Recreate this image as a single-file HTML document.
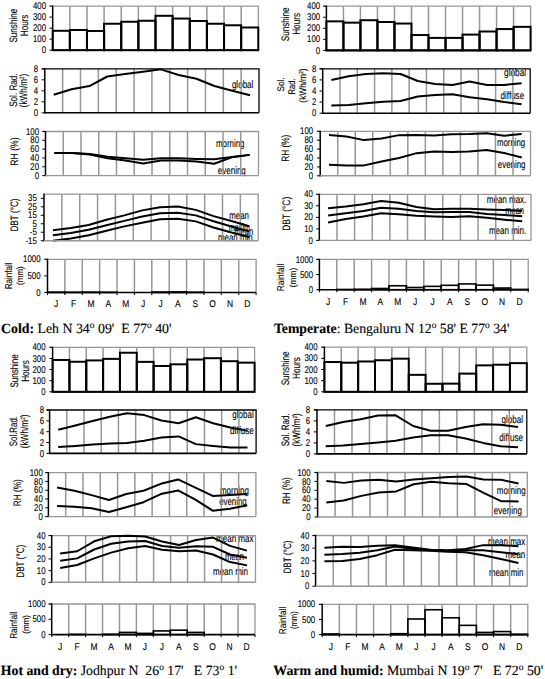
<!DOCTYPE html><html><head><meta charset="utf-8"><style>html,body{margin:0;padding:0;background:#fff;}svg{display:block;}</style></head><body>
<svg width="545" height="679" viewBox="0 0 545 679" font-family="Liberation Sans, sans-serif" fill="#000">
<style>text{stroke:#000;stroke-width:0.12px;text-rendering:geometricPrecision;}</style>
<rect width="545" height="679" fill="#fff"/>
<line x1="69.83" y1="6.1" x2="69.83" y2="50.2" stroke="#979797" stroke-width="1.5"/>
<line x1="86.97" y1="6.1" x2="86.97" y2="50.2" stroke="#979797" stroke-width="1.5"/>
<line x1="104.1" y1="6.1" x2="104.1" y2="50.2" stroke="#979797" stroke-width="1.5"/>
<line x1="121.23" y1="6.1" x2="121.23" y2="50.2" stroke="#979797" stroke-width="1.5"/>
<line x1="138.37" y1="6.1" x2="138.37" y2="50.2" stroke="#979797" stroke-width="1.5"/>
<line x1="155.5" y1="6.1" x2="155.5" y2="50.2" stroke="#979797" stroke-width="1.5"/>
<line x1="172.63" y1="6.1" x2="172.63" y2="50.2" stroke="#979797" stroke-width="1.5"/>
<line x1="189.77" y1="6.1" x2="189.77" y2="50.2" stroke="#979797" stroke-width="1.5"/>
<line x1="206.9" y1="6.1" x2="206.9" y2="50.2" stroke="#979797" stroke-width="1.5"/>
<line x1="224.03" y1="6.1" x2="224.03" y2="50.2" stroke="#979797" stroke-width="1.5"/>
<line x1="241.17" y1="6.1" x2="241.17" y2="50.2" stroke="#979797" stroke-width="1.5"/>
<polyline points="49.7,6.1 258.3,6.1 258.3,50.2" fill="none" stroke="#979797" stroke-width="1.3"/>
<rect x="52.7" y="30.8" width="17.13" height="19.4" fill="none" stroke="#000" stroke-width="2"/>
<rect x="69.83" y="30.02" width="17.13" height="20.18" fill="none" stroke="#000" stroke-width="2"/>
<rect x="86.97" y="31.02" width="17.13" height="19.18" fill="none" stroke="#000" stroke-width="2"/>
<rect x="104.1" y="23.74" width="17.13" height="26.46" fill="none" stroke="#000" stroke-width="2"/>
<rect x="121.23" y="21.76" width="17.13" height="28.44" fill="none" stroke="#000" stroke-width="2"/>
<rect x="138.37" y="20.76" width="17.13" height="29.44" fill="none" stroke="#000" stroke-width="2"/>
<rect x="155.5" y="15.8" width="17.13" height="34.4" fill="none" stroke="#000" stroke-width="2"/>
<rect x="172.63" y="18.56" width="17.13" height="31.64" fill="none" stroke="#000" stroke-width="2"/>
<rect x="189.77" y="20.98" width="17.13" height="29.22" fill="none" stroke="#000" stroke-width="2"/>
<rect x="206.9" y="23.74" width="17.13" height="26.46" fill="none" stroke="#000" stroke-width="2"/>
<rect x="224.03" y="25.28" width="17.13" height="24.92" fill="none" stroke="#000" stroke-width="2"/>
<rect x="241.17" y="27.49" width="17.13" height="22.71" fill="none" stroke="#000" stroke-width="2"/>
<line x1="52.7" y1="5.5" x2="52.7" y2="50.8" stroke="#000" stroke-width="1.5"/>
<line x1="52.1" y1="50.2" x2="258.3" y2="50.2" stroke="#000" stroke-width="1.6"/>
<line x1="49.5" y1="50.2" x2="52.7" y2="50.2" stroke="#000" stroke-width="1"/>
<text transform="translate(46 53.34) scale(0.8 1)" font-size="9.8" text-anchor="end">0</text>
<line x1="49.5" y1="39.18" x2="52.7" y2="39.18" stroke="#000" stroke-width="1"/>
<text transform="translate(46 42.31) scale(0.8 1)" font-size="9.8" text-anchor="end">100</text>
<line x1="49.5" y1="28.15" x2="52.7" y2="28.15" stroke="#000" stroke-width="1"/>
<text transform="translate(46 31.29) scale(0.8 1)" font-size="9.8" text-anchor="end">200</text>
<line x1="49.5" y1="17.12" x2="52.7" y2="17.12" stroke="#000" stroke-width="1"/>
<text transform="translate(46 20.26) scale(0.8 1)" font-size="9.8" text-anchor="end">300</text>
<line x1="49.5" y1="6.1" x2="52.7" y2="6.1" stroke="#000" stroke-width="1"/>
<text transform="translate(46 9.24) scale(0.8 1)" font-size="9.8" text-anchor="end">400</text>
<text transform="translate(16.7 25.7) rotate(-90)" x="0" y="0" font-size="10.8" text-anchor="middle" textLength="33.8" lengthAdjust="spacingAndGlyphs">Sunshine</text>
<text transform="translate(27.7 25.4) rotate(-90)" x="0" y="0" font-size="10.8" text-anchor="middle" textLength="21.6" lengthAdjust="spacingAndGlyphs">Hours</text>
<text x="231.9" y="88.1" font-size="10.8" text-anchor="start" textLength="21.5" lengthAdjust="spacingAndGlyphs">global</text>
<line x1="62.65" y1="68.8" x2="62.65" y2="112.8" stroke="#979797" stroke-width="1.5"/>
<line x1="80.5" y1="68.8" x2="80.5" y2="112.8" stroke="#979797" stroke-width="1.5"/>
<line x1="98.35" y1="68.8" x2="98.35" y2="112.8" stroke="#979797" stroke-width="1.5"/>
<line x1="116.2" y1="68.8" x2="116.2" y2="112.8" stroke="#979797" stroke-width="1.5"/>
<line x1="134.05" y1="68.8" x2="134.05" y2="112.8" stroke="#979797" stroke-width="1.5"/>
<line x1="151.9" y1="68.8" x2="151.9" y2="112.8" stroke="#979797" stroke-width="1.5"/>
<line x1="169.75" y1="68.8" x2="169.75" y2="112.8" stroke="#979797" stroke-width="1.5"/>
<line x1="187.6" y1="68.8" x2="187.6" y2="112.8" stroke="#979797" stroke-width="1.5"/>
<line x1="205.45" y1="68.8" x2="205.45" y2="112.8" stroke="#979797" stroke-width="1.5"/>
<line x1="223.3" y1="68.8" x2="223.3" y2="112.8" stroke="#979797" stroke-width="1.5"/>
<line x1="241.15" y1="68.8" x2="241.15" y2="112.8" stroke="#979797" stroke-width="1.5"/>
<polyline points="41.8,68.8 259,68.8 259,112.8" fill="none" stroke="#000" stroke-width="1.3"/>
<polyline points="53.72,94.81 71.57,89.31 89.42,86.02 107.27,76.5 125.12,73.91 142.97,71.72 160.82,69.35 178.67,75.01 196.52,78.7 214.38,86.02 232.22,90.8 250.07,95.2" fill="none" stroke="#000" stroke-width="2.0" stroke-linejoin="round"/>
<line x1="44.8" y1="68.2" x2="44.8" y2="113.4" stroke="#000" stroke-width="1.5"/>
<line x1="44.2" y1="112.8" x2="259" y2="112.8" stroke="#000" stroke-width="1.6"/>
<line x1="41.6" y1="112.8" x2="44.8" y2="112.8" stroke="#000" stroke-width="1"/>
<text transform="translate(38.1 115.94) scale(0.8 1)" font-size="9.8" text-anchor="end">0</text>
<line x1="41.6" y1="101.8" x2="44.8" y2="101.8" stroke="#000" stroke-width="1"/>
<text transform="translate(38.1 104.94) scale(0.8 1)" font-size="9.8" text-anchor="end">2</text>
<line x1="41.6" y1="90.8" x2="44.8" y2="90.8" stroke="#000" stroke-width="1"/>
<text transform="translate(38.1 93.94) scale(0.8 1)" font-size="9.8" text-anchor="end">4</text>
<line x1="41.6" y1="79.8" x2="44.8" y2="79.8" stroke="#000" stroke-width="1"/>
<text transform="translate(38.1 82.94) scale(0.8 1)" font-size="9.8" text-anchor="end">6</text>
<line x1="41.6" y1="68.8" x2="44.8" y2="68.8" stroke="#000" stroke-width="1"/>
<text transform="translate(38.1 71.94) scale(0.8 1)" font-size="9.8" text-anchor="end">8</text>
<text transform="translate(16.5 90.1) rotate(-90)" x="0" y="0" font-size="10.8" text-anchor="middle" textLength="33.5" lengthAdjust="spacingAndGlyphs">Sol. Rad.</text>
<text transform="translate(27.2 90.5) rotate(-90)" x="0" y="0" font-size="10.8" text-anchor="middle" textLength="33.6" lengthAdjust="spacingAndGlyphs">(kWh/m<tspan font-size="6" dy="-3">2</tspan><tspan dy="3">)</tspan></text>
<text x="216" y="146.9" font-size="10.8" text-anchor="start" textLength="28.5" lengthAdjust="spacingAndGlyphs">morning</text>
<text x="217.8" y="173.9" font-size="10.8" text-anchor="start" textLength="28" lengthAdjust="spacingAndGlyphs">evening</text>
<line x1="63.25" y1="131.5" x2="63.25" y2="175.6" stroke="#979797" stroke-width="1.5"/>
<line x1="81" y1="131.5" x2="81" y2="175.6" stroke="#979797" stroke-width="1.5"/>
<line x1="98.75" y1="131.5" x2="98.75" y2="175.6" stroke="#979797" stroke-width="1.5"/>
<line x1="116.5" y1="131.5" x2="116.5" y2="175.6" stroke="#979797" stroke-width="1.5"/>
<line x1="134.25" y1="131.5" x2="134.25" y2="175.6" stroke="#979797" stroke-width="1.5"/>
<line x1="152" y1="131.5" x2="152" y2="175.6" stroke="#979797" stroke-width="1.5"/>
<line x1="169.75" y1="131.5" x2="169.75" y2="175.6" stroke="#979797" stroke-width="1.5"/>
<line x1="187.5" y1="131.5" x2="187.5" y2="175.6" stroke="#979797" stroke-width="1.5"/>
<line x1="205.25" y1="131.5" x2="205.25" y2="175.6" stroke="#979797" stroke-width="1.5"/>
<line x1="223" y1="131.5" x2="223" y2="175.6" stroke="#979797" stroke-width="1.5"/>
<line x1="240.75" y1="131.5" x2="240.75" y2="175.6" stroke="#979797" stroke-width="1.5"/>
<polyline points="42.5,131.5 258.5,131.5 258.5,175.6" fill="none" stroke="#979797" stroke-width="1.3"/>
<polyline points="54.38,153.11 72.12,153.11 89.88,153.99 107.62,156.86 125.38,158.18 143.12,159.77 160.88,158.18 178.62,158.18 196.38,158.89 214.12,159.28 231.88,157.08 249.62,154.87" fill="none" stroke="#000" stroke-width="2.0" stroke-linejoin="round"/>
<polyline points="54.38,153.11 72.12,153.11 89.88,154.43 107.62,158.18 125.38,160.56 143.12,163.47 160.88,160.61 178.62,160.39 196.38,161.58 214.12,163.69 231.88,157.3 249.62,154.87" fill="none" stroke="#000" stroke-width="2.0" stroke-linejoin="round"/>
<line x1="45.5" y1="130.9" x2="45.5" y2="176.2" stroke="#000" stroke-width="1.5"/>
<line x1="44.9" y1="175.6" x2="258.5" y2="175.6" stroke="#979797" stroke-width="1.4"/>
<line x1="42.3" y1="175.6" x2="45.5" y2="175.6" stroke="#000" stroke-width="1"/>
<text transform="translate(39 178.74) scale(0.8 1)" font-size="9.8" text-anchor="end">0</text>
<line x1="42.3" y1="166.78" x2="45.5" y2="166.78" stroke="#000" stroke-width="1"/>
<text transform="translate(39 169.92) scale(0.8 1)" font-size="9.8" text-anchor="end">20</text>
<line x1="42.3" y1="157.96" x2="45.5" y2="157.96" stroke="#000" stroke-width="1"/>
<text transform="translate(39 161.1) scale(0.8 1)" font-size="9.8" text-anchor="end">40</text>
<line x1="42.3" y1="149.14" x2="45.5" y2="149.14" stroke="#000" stroke-width="1"/>
<text transform="translate(39 152.28) scale(0.8 1)" font-size="9.8" text-anchor="end">60</text>
<line x1="42.3" y1="140.32" x2="45.5" y2="140.32" stroke="#000" stroke-width="1"/>
<text transform="translate(39 143.46) scale(0.8 1)" font-size="9.8" text-anchor="end">80</text>
<line x1="42.3" y1="131.5" x2="45.5" y2="131.5" stroke="#000" stroke-width="1"/>
<text transform="translate(39 134.64) scale(0.8 1)" font-size="9.8" text-anchor="end">100</text>
<text transform="translate(18.3 151.5) rotate(-90)" x="0" y="0" font-size="10.8" text-anchor="middle" textLength="28.3" lengthAdjust="spacingAndGlyphs">RH (%)</text>
<text x="229.3" y="219.3" font-size="10.8" text-anchor="start" textLength="19.7" lengthAdjust="spacingAndGlyphs">mean</text>
<text x="228.8" y="230.7" font-size="10.8" text-anchor="start" textLength="21.2" lengthAdjust="spacingAndGlyphs">maxim</text>
<text x="234.3" y="235.3" font-size="10.8" text-anchor="start" textLength="18.8" lengthAdjust="spacingAndGlyphs">mean</text>
<text x="218" y="241.3" font-size="10.8" text-anchor="start" textLength="34.7" lengthAdjust="spacingAndGlyphs">mean min</text>
<line x1="61.85" y1="194.1" x2="61.85" y2="240.7" stroke="#979797" stroke-width="1.5"/>
<line x1="79.7" y1="194.1" x2="79.7" y2="240.7" stroke="#979797" stroke-width="1.5"/>
<line x1="97.55" y1="194.1" x2="97.55" y2="240.7" stroke="#979797" stroke-width="1.5"/>
<line x1="115.4" y1="194.1" x2="115.4" y2="240.7" stroke="#979797" stroke-width="1.5"/>
<line x1="133.25" y1="194.1" x2="133.25" y2="240.7" stroke="#979797" stroke-width="1.5"/>
<line x1="151.1" y1="194.1" x2="151.1" y2="240.7" stroke="#979797" stroke-width="1.5"/>
<line x1="168.95" y1="194.1" x2="168.95" y2="240.7" stroke="#979797" stroke-width="1.5"/>
<line x1="186.8" y1="194.1" x2="186.8" y2="240.7" stroke="#979797" stroke-width="1.5"/>
<line x1="204.65" y1="194.1" x2="204.65" y2="240.7" stroke="#979797" stroke-width="1.5"/>
<line x1="222.5" y1="194.1" x2="222.5" y2="240.7" stroke="#979797" stroke-width="1.5"/>
<line x1="240.35" y1="194.1" x2="240.35" y2="240.7" stroke="#979797" stroke-width="1.5"/>
<polyline points="44,194.1 258.2,194.1 258.2,240.7" fill="none" stroke="#979797" stroke-width="1.3"/>
<polyline points="52.92,230.19 70.78,227.99 88.62,224.94 106.47,219.77 124.32,215.37 142.17,210.37 160.02,207.32 177.87,206.55 195.72,209.86 213.57,216.13 231.42,221.04 249.27,226.3" fill="none" stroke="#000" stroke-width="2.0" stroke-linejoin="round"/>
<polyline points="52.92,235.19 70.78,232.99 88.62,229.69 106.47,225.28 124.32,220.87 142.17,216.47 160.02,213.16 177.87,212.74 195.72,215.37 213.57,221.21 231.42,226.55 249.27,231.55" fill="none" stroke="#000" stroke-width="2.0" stroke-linejoin="round"/>
<polyline points="52.92,240.7 70.78,238.5 88.62,235.19 106.47,230.79 124.32,226.38 142.17,222.65 160.02,219.18 177.87,218.67 195.72,221.38 213.57,227.48 231.42,232.48 249.27,237.06" fill="none" stroke="#000" stroke-width="2.0" stroke-linejoin="round"/>
<line x1="44" y1="193.5" x2="44" y2="241.3" stroke="#000" stroke-width="1.5"/>
<line x1="43.4" y1="240.7" x2="258.2" y2="240.7" stroke="#979797" stroke-width="1.4"/>
<line x1="40.8" y1="240.7" x2="44" y2="240.7" stroke="#000" stroke-width="1"/>
<text transform="translate(36.8 243.84) scale(0.8 1)" font-size="9.8" text-anchor="end">-15</text>
<line x1="40.8" y1="232.23" x2="44" y2="232.23" stroke="#000" stroke-width="1"/>
<text transform="translate(36.8 235.36) scale(0.8 1)" font-size="9.8" text-anchor="end">-5</text>
<line x1="40.8" y1="223.75" x2="44" y2="223.75" stroke="#000" stroke-width="1"/>
<text transform="translate(36.8 226.89) scale(0.8 1)" font-size="9.8" text-anchor="end">5</text>
<line x1="40.8" y1="215.28" x2="44" y2="215.28" stroke="#000" stroke-width="1"/>
<text transform="translate(36.8 218.42) scale(0.8 1)" font-size="9.8" text-anchor="end">15</text>
<line x1="40.8" y1="206.81" x2="44" y2="206.81" stroke="#000" stroke-width="1"/>
<text transform="translate(36.8 209.95) scale(0.8 1)" font-size="9.8" text-anchor="end">25</text>
<line x1="40.8" y1="198.34" x2="44" y2="198.34" stroke="#000" stroke-width="1"/>
<text transform="translate(36.8 201.47) scale(0.8 1)" font-size="9.8" text-anchor="end">35</text>
<text transform="translate(18.3 215) rotate(-90)" x="0" y="0" font-size="10.8" text-anchor="middle" textLength="33.1" lengthAdjust="spacingAndGlyphs">DBT (°C)</text>
<line x1="64.88" y1="259.3" x2="64.88" y2="292.5" stroke="#979797" stroke-width="1.5"/>
<line x1="82.27" y1="259.3" x2="82.27" y2="292.5" stroke="#979797" stroke-width="1.5"/>
<line x1="99.65" y1="259.3" x2="99.65" y2="292.5" stroke="#979797" stroke-width="1.5"/>
<line x1="117.03" y1="259.3" x2="117.03" y2="292.5" stroke="#979797" stroke-width="1.5"/>
<line x1="134.42" y1="259.3" x2="134.42" y2="292.5" stroke="#979797" stroke-width="1.5"/>
<line x1="151.8" y1="259.3" x2="151.8" y2="292.5" stroke="#979797" stroke-width="1.5"/>
<line x1="169.18" y1="259.3" x2="169.18" y2="292.5" stroke="#979797" stroke-width="1.5"/>
<line x1="186.57" y1="259.3" x2="186.57" y2="292.5" stroke="#979797" stroke-width="1.5"/>
<line x1="203.95" y1="259.3" x2="203.95" y2="292.5" stroke="#979797" stroke-width="1.5"/>
<line x1="221.33" y1="259.3" x2="221.33" y2="292.5" stroke="#979797" stroke-width="1.5"/>
<line x1="238.72" y1="259.3" x2="238.72" y2="292.5" stroke="#979797" stroke-width="1.5"/>
<polyline points="44.5,259.3 256.1,259.3 256.1,292.5" fill="none" stroke="#979797" stroke-width="1.3"/>
<rect x="47.5" y="292.17" width="17.38" height="0.33" fill="none" stroke="#000" stroke-width="1.6"/>
<rect x="64.88" y="292.23" width="17.38" height="0.27" fill="none" stroke="#000" stroke-width="1.6"/>
<rect x="82.27" y="292.13" width="17.38" height="0.37" fill="none" stroke="#000" stroke-width="1.6"/>
<rect x="99.65" y="292.27" width="17.38" height="0.23" fill="none" stroke="#000" stroke-width="1.6"/>
<rect x="151.8" y="292" width="17.38" height="0.5" fill="none" stroke="#000" stroke-width="1.6"/>
<rect x="169.18" y="291.9" width="17.38" height="0.6" fill="none" stroke="#000" stroke-width="1.6"/>
<rect x="186.57" y="292.2" width="17.38" height="0.3" fill="none" stroke="#000" stroke-width="1.6"/>
<line x1="47.5" y1="258.7" x2="47.5" y2="293.1" stroke="#000" stroke-width="1.5"/>
<line x1="46.9" y1="292.5" x2="256.1" y2="292.5" stroke="#000" stroke-width="1.6"/>
<line x1="44.3" y1="292.5" x2="47.5" y2="292.5" stroke="#000" stroke-width="1"/>
<text transform="translate(40.5 295.64) scale(0.8 1)" font-size="9.8" text-anchor="end">0</text>
<line x1="44.3" y1="275.9" x2="47.5" y2="275.9" stroke="#000" stroke-width="1"/>
<text transform="translate(40.5 279.04) scale(0.8 1)" font-size="9.8" text-anchor="end">500</text>
<line x1="44.3" y1="259.3" x2="47.5" y2="259.3" stroke="#000" stroke-width="1"/>
<text transform="translate(40.5 262.44) scale(0.8 1)" font-size="9.8" text-anchor="end">1000</text>
<line x1="47.5" y1="292.5" x2="47.5" y2="295.1" stroke="#000" stroke-width="1"/>
<line x1="64.88" y1="292.5" x2="64.88" y2="295.1" stroke="#000" stroke-width="1"/>
<line x1="82.27" y1="292.5" x2="82.27" y2="295.1" stroke="#000" stroke-width="1"/>
<line x1="99.65" y1="292.5" x2="99.65" y2="295.1" stroke="#000" stroke-width="1"/>
<line x1="117.03" y1="292.5" x2="117.03" y2="295.1" stroke="#000" stroke-width="1"/>
<line x1="134.42" y1="292.5" x2="134.42" y2="295.1" stroke="#000" stroke-width="1"/>
<line x1="151.8" y1="292.5" x2="151.8" y2="295.1" stroke="#000" stroke-width="1"/>
<line x1="169.18" y1="292.5" x2="169.18" y2="295.1" stroke="#000" stroke-width="1"/>
<line x1="186.57" y1="292.5" x2="186.57" y2="295.1" stroke="#000" stroke-width="1"/>
<line x1="203.95" y1="292.5" x2="203.95" y2="295.1" stroke="#000" stroke-width="1"/>
<line x1="221.33" y1="292.5" x2="221.33" y2="295.1" stroke="#000" stroke-width="1"/>
<line x1="238.72" y1="292.5" x2="238.72" y2="295.1" stroke="#000" stroke-width="1"/>
<line x1="256.1" y1="292.5" x2="256.1" y2="295.1" stroke="#000" stroke-width="1"/>
<text transform="translate(11.6 275.9) rotate(-90)" x="0" y="0" font-size="10.0" text-anchor="middle" textLength="26.9" lengthAdjust="spacingAndGlyphs">Rainfall</text>
<text transform="translate(22.8 275.6) rotate(-90)" x="0" y="0" font-size="9.2" text-anchor="middle" textLength="18.6" lengthAdjust="spacingAndGlyphs">(mm)</text>
<line x1="343.42" y1="6.2" x2="343.42" y2="50.4" stroke="#979797" stroke-width="1.5"/>
<line x1="360.43" y1="6.2" x2="360.43" y2="50.4" stroke="#979797" stroke-width="1.5"/>
<line x1="377.45" y1="6.2" x2="377.45" y2="50.4" stroke="#979797" stroke-width="1.5"/>
<line x1="394.47" y1="6.2" x2="394.47" y2="50.4" stroke="#979797" stroke-width="1.5"/>
<line x1="411.48" y1="6.2" x2="411.48" y2="50.4" stroke="#979797" stroke-width="1.5"/>
<line x1="428.5" y1="6.2" x2="428.5" y2="50.4" stroke="#979797" stroke-width="1.5"/>
<line x1="445.52" y1="6.2" x2="445.52" y2="50.4" stroke="#979797" stroke-width="1.5"/>
<line x1="462.53" y1="6.2" x2="462.53" y2="50.4" stroke="#979797" stroke-width="1.5"/>
<line x1="479.55" y1="6.2" x2="479.55" y2="50.4" stroke="#979797" stroke-width="1.5"/>
<line x1="496.57" y1="6.2" x2="496.57" y2="50.4" stroke="#979797" stroke-width="1.5"/>
<line x1="513.58" y1="6.2" x2="513.58" y2="50.4" stroke="#979797" stroke-width="1.5"/>
<polyline points="323.4,6.2 530.6,6.2 530.6,50.4" fill="none" stroke="#979797" stroke-width="1.3"/>
<rect x="326.4" y="21.34" width="17.02" height="29.06" fill="none" stroke="#000" stroke-width="2"/>
<rect x="343.42" y="22.66" width="17.02" height="27.74" fill="none" stroke="#000" stroke-width="2"/>
<rect x="360.43" y="20.23" width="17.02" height="30.17" fill="none" stroke="#000" stroke-width="2"/>
<rect x="377.45" y="22" width="17.02" height="28.4" fill="none" stroke="#000" stroke-width="2"/>
<rect x="394.47" y="23.55" width="17.02" height="26.85" fill="none" stroke="#000" stroke-width="2"/>
<rect x="411.48" y="35.04" width="17.02" height="15.36" fill="none" stroke="#000" stroke-width="2"/>
<rect x="428.5" y="37.91" width="17.02" height="12.49" fill="none" stroke="#000" stroke-width="2"/>
<rect x="445.52" y="37.91" width="17.02" height="12.49" fill="none" stroke="#000" stroke-width="2"/>
<rect x="462.53" y="34.6" width="17.02" height="15.8" fill="none" stroke="#000" stroke-width="2"/>
<rect x="479.55" y="31.5" width="17.02" height="18.9" fill="none" stroke="#000" stroke-width="2"/>
<rect x="496.57" y="29.07" width="17.02" height="21.33" fill="none" stroke="#000" stroke-width="2"/>
<rect x="513.58" y="26.86" width="17.02" height="23.54" fill="none" stroke="#000" stroke-width="2"/>
<line x1="326.4" y1="5.6" x2="326.4" y2="51" stroke="#000" stroke-width="1.5"/>
<line x1="325.8" y1="50.4" x2="530.6" y2="50.4" stroke="#000" stroke-width="1.6"/>
<line x1="323.2" y1="50.4" x2="326.4" y2="50.4" stroke="#000" stroke-width="1"/>
<text transform="translate(320.2 53.54) scale(0.8 1)" font-size="9.8" text-anchor="end">0</text>
<line x1="323.2" y1="39.35" x2="326.4" y2="39.35" stroke="#000" stroke-width="1"/>
<text transform="translate(320.2 42.49) scale(0.8 1)" font-size="9.8" text-anchor="end">100</text>
<line x1="323.2" y1="28.3" x2="326.4" y2="28.3" stroke="#000" stroke-width="1"/>
<text transform="translate(320.2 31.44) scale(0.8 1)" font-size="9.8" text-anchor="end">200</text>
<line x1="323.2" y1="17.25" x2="326.4" y2="17.25" stroke="#000" stroke-width="1"/>
<text transform="translate(320.2 20.39) scale(0.8 1)" font-size="9.8" text-anchor="end">300</text>
<line x1="323.2" y1="6.2" x2="326.4" y2="6.2" stroke="#000" stroke-width="1"/>
<text transform="translate(320.2 9.34) scale(0.8 1)" font-size="9.8" text-anchor="end">400</text>
<text transform="translate(289.4 24.3) rotate(-90)" x="0" y="0" font-size="10.8" text-anchor="middle" textLength="33.8" lengthAdjust="spacingAndGlyphs">Sunshine</text>
<text transform="translate(300.4 23.9) rotate(-90)" x="0" y="0" font-size="10.8" text-anchor="middle" textLength="21.9" lengthAdjust="spacingAndGlyphs">Hours</text>
<text x="504.1" y="75.7" font-size="10.8" text-anchor="start" textLength="22" lengthAdjust="spacingAndGlyphs">global</text>
<text x="500.6" y="99" font-size="10.8" text-anchor="start" textLength="23.5" lengthAdjust="spacingAndGlyphs">diffuse</text>
<line x1="339.99" y1="68.8" x2="339.99" y2="113.2" stroke="#979797" stroke-width="1.5"/>
<line x1="357.28" y1="68.8" x2="357.28" y2="113.2" stroke="#979797" stroke-width="1.5"/>
<line x1="374.57" y1="68.8" x2="374.57" y2="113.2" stroke="#979797" stroke-width="1.5"/>
<line x1="391.87" y1="68.8" x2="391.87" y2="113.2" stroke="#979797" stroke-width="1.5"/>
<line x1="409.16" y1="68.8" x2="409.16" y2="113.2" stroke="#979797" stroke-width="1.5"/>
<line x1="426.45" y1="68.8" x2="426.45" y2="113.2" stroke="#979797" stroke-width="1.5"/>
<line x1="443.74" y1="68.8" x2="443.74" y2="113.2" stroke="#979797" stroke-width="1.5"/>
<line x1="461.03" y1="68.8" x2="461.03" y2="113.2" stroke="#979797" stroke-width="1.5"/>
<line x1="478.33" y1="68.8" x2="478.33" y2="113.2" stroke="#979797" stroke-width="1.5"/>
<line x1="495.62" y1="68.8" x2="495.62" y2="113.2" stroke="#979797" stroke-width="1.5"/>
<line x1="512.91" y1="68.8" x2="512.91" y2="113.2" stroke="#979797" stroke-width="1.5"/>
<polyline points="319.7,68.8 530.2,68.8 530.2,113.2" fill="none" stroke="#000" stroke-width="1.3"/>
<polyline points="331.35,79.9 348.64,76.18 365.93,73.96 383.22,73.24 400.51,73.96 417.8,81.01 435.1,83.95 452.39,85.06 469.68,81.56 486.97,85.06 504.26,84.89 521.55,83.23" fill="none" stroke="#000" stroke-width="2.0" stroke-linejoin="round"/>
<polyline points="331.35,105.43 348.64,105.04 365.93,103.21 383.22,101.71 400.51,100.99 417.8,96.55 435.1,94.89 452.39,94.33 469.68,97.27 486.97,99.33 504.26,102.1 521.55,104.32" fill="none" stroke="#000" stroke-width="2.0" stroke-linejoin="round"/>
<line x1="322.7" y1="68.2" x2="322.7" y2="113.8" stroke="#000" stroke-width="1.5"/>
<line x1="322.1" y1="113.2" x2="530.2" y2="113.2" stroke="#000" stroke-width="1.6"/>
<line x1="319.5" y1="113.2" x2="322.7" y2="113.2" stroke="#000" stroke-width="1"/>
<text transform="translate(316.4 116.34) scale(0.8 1)" font-size="9.8" text-anchor="end">0</text>
<line x1="319.5" y1="102.1" x2="322.7" y2="102.1" stroke="#000" stroke-width="1"/>
<text transform="translate(316.4 105.24) scale(0.8 1)" font-size="9.8" text-anchor="end">2</text>
<line x1="319.5" y1="91" x2="322.7" y2="91" stroke="#000" stroke-width="1"/>
<text transform="translate(316.4 94.14) scale(0.8 1)" font-size="9.8" text-anchor="end">4</text>
<line x1="319.5" y1="79.9" x2="322.7" y2="79.9" stroke="#000" stroke-width="1"/>
<text transform="translate(316.4 83.04) scale(0.8 1)" font-size="9.8" text-anchor="end">6</text>
<line x1="319.5" y1="68.8" x2="322.7" y2="68.8" stroke="#000" stroke-width="1"/>
<text transform="translate(316.4 71.94) scale(0.8 1)" font-size="9.8" text-anchor="end">8</text>
<text transform="translate(284.4 84.5) rotate(-90)" x="0" y="0" font-size="9.6" text-anchor="middle" textLength="14.2" lengthAdjust="spacingAndGlyphs">Sol.</text>
<text transform="translate(294.8 86.4) rotate(-90)" x="0" y="0" font-size="9.6" text-anchor="middle" textLength="16" lengthAdjust="spacingAndGlyphs">Rad.</text>
<text transform="translate(306 85.5) rotate(-90)" x="0" y="0" font-size="9.8" text-anchor="middle" textLength="34.3" lengthAdjust="spacingAndGlyphs">(kWh/m<tspan font-size="6" dy="-3">2</tspan><tspan dy="3">)</tspan></text>
<text x="497" y="145.5" font-size="10.8" text-anchor="start" textLength="28.2" lengthAdjust="spacingAndGlyphs">morning</text>
<text x="497.8" y="168.1" font-size="10.8" text-anchor="start" textLength="27.7" lengthAdjust="spacingAndGlyphs">evening</text>
<line x1="337.72" y1="131.3" x2="337.72" y2="175.8" stroke="#979797" stroke-width="1.5"/>
<line x1="355.25" y1="131.3" x2="355.25" y2="175.8" stroke="#979797" stroke-width="1.5"/>
<line x1="372.77" y1="131.3" x2="372.77" y2="175.8" stroke="#979797" stroke-width="1.5"/>
<line x1="390.3" y1="131.3" x2="390.3" y2="175.8" stroke="#979797" stroke-width="1.5"/>
<line x1="407.82" y1="131.3" x2="407.82" y2="175.8" stroke="#979797" stroke-width="1.5"/>
<line x1="425.35" y1="131.3" x2="425.35" y2="175.8" stroke="#979797" stroke-width="1.5"/>
<line x1="442.88" y1="131.3" x2="442.88" y2="175.8" stroke="#979797" stroke-width="1.5"/>
<line x1="460.4" y1="131.3" x2="460.4" y2="175.8" stroke="#979797" stroke-width="1.5"/>
<line x1="477.93" y1="131.3" x2="477.93" y2="175.8" stroke="#979797" stroke-width="1.5"/>
<line x1="495.45" y1="131.3" x2="495.45" y2="175.8" stroke="#979797" stroke-width="1.5"/>
<line x1="512.98" y1="131.3" x2="512.98" y2="175.8" stroke="#979797" stroke-width="1.5"/>
<polyline points="317.2,131.3 530.5,131.3 530.5,175.8" fill="none" stroke="#979797" stroke-width="1.3"/>
<polyline points="328.96,135.08 346.49,136.42 364.01,140.11 381.54,138.42 399.06,135.13 416.59,134.9 434.11,135.53 451.64,134.19 469.16,133.97 486.69,133.35 504.21,135.71 521.74,134.1" fill="none" stroke="#000" stroke-width="2.0" stroke-linejoin="round"/>
<polyline points="328.96,164.81 346.49,165.39 364.01,165.39 381.54,161.56 399.06,158.04 416.59,153.15 434.11,151.46 451.64,152.04 469.16,151.46 486.69,150.03 504.21,152.93 521.74,157.56" fill="none" stroke="#000" stroke-width="2.0" stroke-linejoin="round"/>
<line x1="320.2" y1="130.7" x2="320.2" y2="176.4" stroke="#000" stroke-width="1.5"/>
<line x1="319.6" y1="175.8" x2="530.5" y2="175.8" stroke="#979797" stroke-width="1.4"/>
<line x1="317" y1="175.8" x2="320.2" y2="175.8" stroke="#000" stroke-width="1"/>
<text transform="translate(313.2 178.94) scale(0.8 1)" font-size="9.8" text-anchor="end">0</text>
<line x1="317" y1="166.9" x2="320.2" y2="166.9" stroke="#000" stroke-width="1"/>
<text transform="translate(313.2 170.04) scale(0.8 1)" font-size="9.8" text-anchor="end">20</text>
<line x1="317" y1="158" x2="320.2" y2="158" stroke="#000" stroke-width="1"/>
<text transform="translate(313.2 161.14) scale(0.8 1)" font-size="9.8" text-anchor="end">40</text>
<line x1="317" y1="149.1" x2="320.2" y2="149.1" stroke="#000" stroke-width="1"/>
<text transform="translate(313.2 152.24) scale(0.8 1)" font-size="9.8" text-anchor="end">60</text>
<line x1="317" y1="140.2" x2="320.2" y2="140.2" stroke="#000" stroke-width="1"/>
<text transform="translate(313.2 143.34) scale(0.8 1)" font-size="9.8" text-anchor="end">80</text>
<line x1="317" y1="131.3" x2="320.2" y2="131.3" stroke="#000" stroke-width="1"/>
<text transform="translate(313.2 134.44) scale(0.8 1)" font-size="9.8" text-anchor="end">100</text>
<text transform="translate(289 148.2) rotate(-90)" x="0" y="0" font-size="10.8" text-anchor="middle" textLength="27" lengthAdjust="spacingAndGlyphs">RH (%)</text>
<text x="486.8" y="202.7" font-size="10.8" text-anchor="start" textLength="39.5" lengthAdjust="spacingAndGlyphs">mean max.</text>
<text x="505.2" y="213.6" font-size="10.8" text-anchor="start" textLength="18.8" lengthAdjust="spacingAndGlyphs">mean</text>
<text x="488.9" y="233.9" font-size="10.8" text-anchor="start" textLength="37.4" lengthAdjust="spacingAndGlyphs">mean min.</text>
<line x1="336.94" y1="194.3" x2="336.94" y2="240.4" stroke="#979797" stroke-width="1.5"/>
<line x1="354.58" y1="194.3" x2="354.58" y2="240.4" stroke="#979797" stroke-width="1.5"/>
<line x1="372.23" y1="194.3" x2="372.23" y2="240.4" stroke="#979797" stroke-width="1.5"/>
<line x1="389.87" y1="194.3" x2="389.87" y2="240.4" stroke="#979797" stroke-width="1.5"/>
<line x1="407.51" y1="194.3" x2="407.51" y2="240.4" stroke="#979797" stroke-width="1.5"/>
<line x1="425.15" y1="194.3" x2="425.15" y2="240.4" stroke="#979797" stroke-width="1.5"/>
<line x1="442.79" y1="194.3" x2="442.79" y2="240.4" stroke="#979797" stroke-width="1.5"/>
<line x1="460.43" y1="194.3" x2="460.43" y2="240.4" stroke="#979797" stroke-width="1.5"/>
<line x1="478.07" y1="194.3" x2="478.07" y2="240.4" stroke="#979797" stroke-width="1.5"/>
<line x1="495.72" y1="194.3" x2="495.72" y2="240.4" stroke="#979797" stroke-width="1.5"/>
<line x1="513.36" y1="194.3" x2="513.36" y2="240.4" stroke="#979797" stroke-width="1.5"/>
<polyline points="316.3,194.3 531,194.3 531,240.4" fill="none" stroke="#979797" stroke-width="1.3"/>
<polyline points="328.12,208.13 345.76,206.4 363.4,204.21 381.05,201.1 398.69,202.71 416.33,207.09 433.97,209.28 451.61,208.82 469.25,208.82 486.9,209.51 504.54,209.97 522.18,210.78" fill="none" stroke="#000" stroke-width="2.0" stroke-linejoin="round"/>
<polyline points="328.12,215.39 345.76,213.2 363.4,211.01 381.05,207.78 398.69,208.82 416.33,211.01 433.97,212.16 451.61,211.93 469.25,211.93 486.9,213.89 504.54,215.05 522.18,216.2" fill="none" stroke="#000" stroke-width="2.0" stroke-linejoin="round"/>
<polyline points="328.12,222.42 345.76,219.08 363.4,216.54 381.05,213.2 398.69,214.35 416.33,215.85 433.97,216.54 451.61,216.89 469.25,216.31 486.9,217.81 504.54,219.66 522.18,221.27" fill="none" stroke="#000" stroke-width="2.0" stroke-linejoin="round"/>
<line x1="319.3" y1="193.7" x2="319.3" y2="241" stroke="#000" stroke-width="1.5"/>
<line x1="318.7" y1="240.4" x2="531" y2="240.4" stroke="#979797" stroke-width="1.4"/>
<line x1="316.1" y1="240.4" x2="319.3" y2="240.4" stroke="#000" stroke-width="1"/>
<text transform="translate(312.9 243.54) scale(0.8 1)" font-size="9.8" text-anchor="end">0</text>
<line x1="316.1" y1="228.88" x2="319.3" y2="228.88" stroke="#000" stroke-width="1"/>
<text transform="translate(312.9 232.01) scale(0.8 1)" font-size="9.8" text-anchor="end">10</text>
<line x1="316.1" y1="217.35" x2="319.3" y2="217.35" stroke="#000" stroke-width="1"/>
<text transform="translate(312.9 220.49) scale(0.8 1)" font-size="9.8" text-anchor="end">20</text>
<line x1="316.1" y1="205.83" x2="319.3" y2="205.83" stroke="#000" stroke-width="1"/>
<text transform="translate(312.9 208.96) scale(0.8 1)" font-size="9.8" text-anchor="end">30</text>
<line x1="316.1" y1="194.3" x2="319.3" y2="194.3" stroke="#000" stroke-width="1"/>
<text transform="translate(312.9 197.44) scale(0.8 1)" font-size="9.8" text-anchor="end">40</text>
<text transform="translate(290.3 213.8) rotate(-90)" x="0" y="0" font-size="10.8" text-anchor="middle" textLength="34" lengthAdjust="spacingAndGlyphs">DBT (°C)</text>
<line x1="336.8" y1="259.4" x2="336.8" y2="289.7" stroke="#979797" stroke-width="1.5"/>
<line x1="354.2" y1="259.4" x2="354.2" y2="289.7" stroke="#979797" stroke-width="1.5"/>
<line x1="371.6" y1="259.4" x2="371.6" y2="289.7" stroke="#979797" stroke-width="1.5"/>
<line x1="389" y1="259.4" x2="389" y2="289.7" stroke="#979797" stroke-width="1.5"/>
<line x1="406.4" y1="259.4" x2="406.4" y2="289.7" stroke="#979797" stroke-width="1.5"/>
<line x1="423.8" y1="259.4" x2="423.8" y2="289.7" stroke="#979797" stroke-width="1.5"/>
<line x1="441.2" y1="259.4" x2="441.2" y2="289.7" stroke="#979797" stroke-width="1.5"/>
<line x1="458.6" y1="259.4" x2="458.6" y2="289.7" stroke="#979797" stroke-width="1.5"/>
<line x1="476" y1="259.4" x2="476" y2="289.7" stroke="#979797" stroke-width="1.5"/>
<line x1="493.4" y1="259.4" x2="493.4" y2="289.7" stroke="#979797" stroke-width="1.5"/>
<line x1="510.8" y1="259.4" x2="510.8" y2="289.7" stroke="#979797" stroke-width="1.5"/>
<polyline points="316.4,259.4 528.2,259.4 528.2,289.7" fill="none" stroke="#979797" stroke-width="1.3"/>
<rect x="336.8" y="289.46" width="17.4" height="0.24" fill="none" stroke="#000" stroke-width="1.6"/>
<rect x="354.2" y="289.25" width="17.4" height="0.45" fill="none" stroke="#000" stroke-width="1.6"/>
<rect x="371.6" y="288.49" width="17.4" height="1.21" fill="none" stroke="#000" stroke-width="1.6"/>
<rect x="389" y="285.76" width="17.4" height="3.94" fill="none" stroke="#000" stroke-width="1.6"/>
<rect x="406.4" y="287.49" width="17.4" height="2.21" fill="none" stroke="#000" stroke-width="1.6"/>
<rect x="423.8" y="286.37" width="17.4" height="3.33" fill="none" stroke="#000" stroke-width="1.6"/>
<rect x="441.2" y="285.31" width="17.4" height="4.39" fill="none" stroke="#000" stroke-width="1.6"/>
<rect x="458.6" y="283.94" width="17.4" height="5.76" fill="none" stroke="#000" stroke-width="1.6"/>
<rect x="476" y="285.15" width="17.4" height="4.55" fill="none" stroke="#000" stroke-width="1.6"/>
<rect x="493.4" y="288.03" width="17.4" height="1.67" fill="none" stroke="#000" stroke-width="1.6"/>
<rect x="510.8" y="289.4" width="17.4" height="0.3" fill="none" stroke="#000" stroke-width="1.6"/>
<line x1="319.4" y1="258.8" x2="319.4" y2="290.3" stroke="#000" stroke-width="1.5"/>
<line x1="318.8" y1="289.7" x2="528.2" y2="289.7" stroke="#000" stroke-width="1.6"/>
<line x1="316.2" y1="289.7" x2="319.4" y2="289.7" stroke="#000" stroke-width="1"/>
<text transform="translate(313.1 292.84) scale(0.8 1)" font-size="9.8" text-anchor="end">0</text>
<line x1="316.2" y1="274.55" x2="319.4" y2="274.55" stroke="#000" stroke-width="1"/>
<text transform="translate(313.1 277.69) scale(0.8 1)" font-size="9.8" text-anchor="end">500</text>
<line x1="316.2" y1="259.4" x2="319.4" y2="259.4" stroke="#000" stroke-width="1"/>
<text transform="translate(313.1 262.54) scale(0.8 1)" font-size="9.8" text-anchor="end">1000</text>
<line x1="319.4" y1="289.7" x2="319.4" y2="292.3" stroke="#000" stroke-width="1"/>
<line x1="336.8" y1="289.7" x2="336.8" y2="292.3" stroke="#000" stroke-width="1"/>
<line x1="354.2" y1="289.7" x2="354.2" y2="292.3" stroke="#000" stroke-width="1"/>
<line x1="371.6" y1="289.7" x2="371.6" y2="292.3" stroke="#000" stroke-width="1"/>
<line x1="389" y1="289.7" x2="389" y2="292.3" stroke="#000" stroke-width="1"/>
<line x1="406.4" y1="289.7" x2="406.4" y2="292.3" stroke="#000" stroke-width="1"/>
<line x1="423.8" y1="289.7" x2="423.8" y2="292.3" stroke="#000" stroke-width="1"/>
<line x1="441.2" y1="289.7" x2="441.2" y2="292.3" stroke="#000" stroke-width="1"/>
<line x1="458.6" y1="289.7" x2="458.6" y2="292.3" stroke="#000" stroke-width="1"/>
<line x1="476" y1="289.7" x2="476" y2="292.3" stroke="#000" stroke-width="1"/>
<line x1="493.4" y1="289.7" x2="493.4" y2="292.3" stroke="#000" stroke-width="1"/>
<line x1="510.8" y1="289.7" x2="510.8" y2="292.3" stroke="#000" stroke-width="1"/>
<line x1="528.2" y1="289.7" x2="528.2" y2="292.3" stroke="#000" stroke-width="1"/>
<text transform="translate(284.4 277.5) rotate(-90)" x="0" y="0" font-size="10.0" text-anchor="middle" textLength="27.5" lengthAdjust="spacingAndGlyphs">Rainfall</text>
<text transform="translate(296.3 277.5) rotate(-90)" x="0" y="0" font-size="9.2" text-anchor="middle" textLength="19.3" lengthAdjust="spacingAndGlyphs">(mm)</text>
<line x1="69.43" y1="347.3" x2="69.43" y2="391.8" stroke="#979797" stroke-width="1.5"/>
<line x1="86.27" y1="347.3" x2="86.27" y2="391.8" stroke="#979797" stroke-width="1.5"/>
<line x1="103.1" y1="347.3" x2="103.1" y2="391.8" stroke="#979797" stroke-width="1.5"/>
<line x1="119.93" y1="347.3" x2="119.93" y2="391.8" stroke="#979797" stroke-width="1.5"/>
<line x1="136.77" y1="347.3" x2="136.77" y2="391.8" stroke="#979797" stroke-width="1.5"/>
<line x1="153.6" y1="347.3" x2="153.6" y2="391.8" stroke="#979797" stroke-width="1.5"/>
<line x1="170.43" y1="347.3" x2="170.43" y2="391.8" stroke="#979797" stroke-width="1.5"/>
<line x1="187.27" y1="347.3" x2="187.27" y2="391.8" stroke="#979797" stroke-width="1.5"/>
<line x1="204.1" y1="347.3" x2="204.1" y2="391.8" stroke="#979797" stroke-width="1.5"/>
<line x1="220.93" y1="347.3" x2="220.93" y2="391.8" stroke="#979797" stroke-width="1.5"/>
<line x1="237.77" y1="347.3" x2="237.77" y2="391.8" stroke="#979797" stroke-width="1.5"/>
<polyline points="49.6,347.3 254.6,347.3 254.6,391.8" fill="none" stroke="#979797" stroke-width="1.3"/>
<rect x="52.6" y="359.98" width="16.83" height="31.82" fill="none" stroke="#000" stroke-width="2"/>
<rect x="69.43" y="361.76" width="16.83" height="30.04" fill="none" stroke="#000" stroke-width="2"/>
<rect x="86.27" y="360.43" width="16.83" height="31.37" fill="none" stroke="#000" stroke-width="2"/>
<rect x="103.1" y="358.87" width="16.83" height="32.93" fill="none" stroke="#000" stroke-width="2"/>
<rect x="119.93" y="352.75" width="16.83" height="39.05" fill="none" stroke="#000" stroke-width="2"/>
<rect x="136.77" y="361.87" width="16.83" height="29.93" fill="none" stroke="#000" stroke-width="2"/>
<rect x="153.6" y="365.99" width="16.83" height="25.81" fill="none" stroke="#000" stroke-width="2"/>
<rect x="170.43" y="364.32" width="16.83" height="27.48" fill="none" stroke="#000" stroke-width="2"/>
<rect x="187.27" y="359.54" width="16.83" height="32.26" fill="none" stroke="#000" stroke-width="2"/>
<rect x="204.1" y="358.2" width="16.83" height="33.6" fill="none" stroke="#000" stroke-width="2"/>
<rect x="220.93" y="361.21" width="16.83" height="30.59" fill="none" stroke="#000" stroke-width="2"/>
<rect x="237.77" y="362.65" width="16.83" height="29.15" fill="none" stroke="#000" stroke-width="2"/>
<line x1="52.6" y1="346.7" x2="52.6" y2="392.4" stroke="#000" stroke-width="1.5"/>
<line x1="52" y1="391.8" x2="254.6" y2="391.8" stroke="#000" stroke-width="1.6"/>
<line x1="49.4" y1="391.8" x2="52.6" y2="391.8" stroke="#000" stroke-width="1"/>
<text transform="translate(45.6 394.94) scale(0.8 1)" font-size="9.8" text-anchor="end">0</text>
<line x1="49.4" y1="380.68" x2="52.6" y2="380.68" stroke="#000" stroke-width="1"/>
<text transform="translate(45.6 383.81) scale(0.8 1)" font-size="9.8" text-anchor="end">100</text>
<line x1="49.4" y1="369.55" x2="52.6" y2="369.55" stroke="#000" stroke-width="1"/>
<text transform="translate(45.6 372.69) scale(0.8 1)" font-size="9.8" text-anchor="end">200</text>
<line x1="49.4" y1="358.43" x2="52.6" y2="358.43" stroke="#000" stroke-width="1"/>
<text transform="translate(45.6 361.56) scale(0.8 1)" font-size="9.8" text-anchor="end">300</text>
<line x1="49.4" y1="347.3" x2="52.6" y2="347.3" stroke="#000" stroke-width="1"/>
<text transform="translate(45.6 350.44) scale(0.8 1)" font-size="9.8" text-anchor="end">400</text>
<text transform="translate(17.6 370.9) rotate(-90)" x="0" y="0" font-size="10.8" text-anchor="middle" textLength="33.3" lengthAdjust="spacingAndGlyphs">Sunshine</text>
<text transform="translate(28.6 371) rotate(-90)" x="0" y="0" font-size="10.8" text-anchor="middle" textLength="21.6" lengthAdjust="spacingAndGlyphs">Hours</text>
<text x="232.2" y="417.5" font-size="10.8" text-anchor="start" textLength="21.5" lengthAdjust="spacingAndGlyphs">global</text>
<text x="229.9" y="434.3" font-size="10.8" text-anchor="start" textLength="24" lengthAdjust="spacingAndGlyphs">diffuse</text>
<line x1="66.81" y1="410" x2="66.81" y2="453.4" stroke="#979797" stroke-width="1.5"/>
<line x1="84.02" y1="410" x2="84.02" y2="453.4" stroke="#979797" stroke-width="1.5"/>
<line x1="101.23" y1="410" x2="101.23" y2="453.4" stroke="#979797" stroke-width="1.5"/>
<line x1="118.43" y1="410" x2="118.43" y2="453.4" stroke="#979797" stroke-width="1.5"/>
<line x1="135.64" y1="410" x2="135.64" y2="453.4" stroke="#979797" stroke-width="1.5"/>
<line x1="152.85" y1="410" x2="152.85" y2="453.4" stroke="#979797" stroke-width="1.5"/>
<line x1="170.06" y1="410" x2="170.06" y2="453.4" stroke="#979797" stroke-width="1.5"/>
<line x1="187.27" y1="410" x2="187.27" y2="453.4" stroke="#979797" stroke-width="1.5"/>
<line x1="204.48" y1="410" x2="204.48" y2="453.4" stroke="#979797" stroke-width="1.5"/>
<line x1="221.68" y1="410" x2="221.68" y2="453.4" stroke="#979797" stroke-width="1.5"/>
<line x1="238.89" y1="410" x2="238.89" y2="453.4" stroke="#979797" stroke-width="1.5"/>
<polyline points="46.6,410 256.1,410 256.1,453.4" fill="none" stroke="#000" stroke-width="1.3"/>
<polyline points="58.2,429.8 75.41,425.41 92.62,421.01 109.83,416.78 127.04,413.31 144.25,415.1 161.45,420.42 178.66,423.18 195.87,417.32 213.08,423.18 230.29,427.58 247.5,430.89" fill="none" stroke="#000" stroke-width="2.0" stroke-linejoin="round"/>
<polyline points="58.2,447 75.41,445.91 92.62,444.61 109.83,443.53 127.04,442.98 144.25,440.81 161.45,437.5 178.66,436.42 195.87,444.12 213.08,445.91 230.29,447.43 247.5,447.43" fill="none" stroke="#000" stroke-width="2.0" stroke-linejoin="round"/>
<line x1="49.6" y1="409.4" x2="49.6" y2="454" stroke="#000" stroke-width="1.5"/>
<line x1="49" y1="453.4" x2="256.1" y2="453.4" stroke="#000" stroke-width="1.6"/>
<line x1="46.4" y1="453.4" x2="49.6" y2="453.4" stroke="#000" stroke-width="1"/>
<text transform="translate(44.1 456.54) scale(0.8 1)" font-size="9.8" text-anchor="end">0</text>
<line x1="46.4" y1="442.55" x2="49.6" y2="442.55" stroke="#000" stroke-width="1"/>
<text transform="translate(44.1 445.69) scale(0.8 1)" font-size="9.8" text-anchor="end">2</text>
<line x1="46.4" y1="431.7" x2="49.6" y2="431.7" stroke="#000" stroke-width="1"/>
<text transform="translate(44.1 434.84) scale(0.8 1)" font-size="9.8" text-anchor="end">4</text>
<line x1="46.4" y1="420.85" x2="49.6" y2="420.85" stroke="#000" stroke-width="1"/>
<text transform="translate(44.1 423.99) scale(0.8 1)" font-size="9.8" text-anchor="end">6</text>
<line x1="46.4" y1="410" x2="49.6" y2="410" stroke="#000" stroke-width="1"/>
<text transform="translate(44.1 413.14) scale(0.8 1)" font-size="9.8" text-anchor="end">8</text>
<text transform="translate(17.4 431.1) rotate(-90)" x="0" y="0" font-size="10.8" text-anchor="middle" textLength="30.1" lengthAdjust="spacingAndGlyphs">Sol.Rad.</text>
<text transform="translate(28.4 431.4) rotate(-90)" x="0" y="0" font-size="10.8" text-anchor="middle" textLength="33.8" lengthAdjust="spacingAndGlyphs">(kWh/m<tspan font-size="6" dy="-3">2</tspan><tspan dy="3">)</tspan></text>
<text x="219.9" y="493.5" font-size="10.8" text-anchor="start" textLength="29" lengthAdjust="spacingAndGlyphs">morning</text>
<text x="219.2" y="505.1" font-size="10.8" text-anchor="start" textLength="27.5" lengthAdjust="spacingAndGlyphs">evening</text>
<line x1="65.69" y1="472.6" x2="65.69" y2="516.6" stroke="#979797" stroke-width="1.5"/>
<line x1="82.98" y1="472.6" x2="82.98" y2="516.6" stroke="#979797" stroke-width="1.5"/>
<line x1="100.28" y1="472.6" x2="100.28" y2="516.6" stroke="#979797" stroke-width="1.5"/>
<line x1="117.57" y1="472.6" x2="117.57" y2="516.6" stroke="#979797" stroke-width="1.5"/>
<line x1="134.86" y1="472.6" x2="134.86" y2="516.6" stroke="#979797" stroke-width="1.5"/>
<line x1="152.15" y1="472.6" x2="152.15" y2="516.6" stroke="#979797" stroke-width="1.5"/>
<line x1="169.44" y1="472.6" x2="169.44" y2="516.6" stroke="#979797" stroke-width="1.5"/>
<line x1="186.73" y1="472.6" x2="186.73" y2="516.6" stroke="#979797" stroke-width="1.5"/>
<line x1="204.03" y1="472.6" x2="204.03" y2="516.6" stroke="#979797" stroke-width="1.5"/>
<line x1="221.32" y1="472.6" x2="221.32" y2="516.6" stroke="#979797" stroke-width="1.5"/>
<line x1="238.61" y1="472.6" x2="238.61" y2="516.6" stroke="#979797" stroke-width="1.5"/>
<polyline points="45.4,472.6 255.9,472.6 255.9,516.6" fill="none" stroke="#979797" stroke-width="1.3"/>
<polyline points="57.05,487.56 74.34,490.77 91.63,495.13 108.92,499.97 126.21,494.07 143.5,490.77 160.8,483.82 178.09,479.42 195.38,487.65 212.67,495.92 229.96,495.04 247.25,494.07" fill="none" stroke="#000" stroke-width="2.0" stroke-linejoin="round"/>
<polyline points="57.05,506.04 74.34,506.74 91.63,508.24 108.92,512.02 126.21,507.18 143.5,502.21 160.8,494.07 178.09,490.42 195.38,499.57 212.67,510.7 229.96,508.77 247.25,505.16" fill="none" stroke="#000" stroke-width="2.0" stroke-linejoin="round"/>
<line x1="48.4" y1="472" x2="48.4" y2="517.2" stroke="#000" stroke-width="1.5"/>
<line x1="47.8" y1="516.6" x2="255.9" y2="516.6" stroke="#979797" stroke-width="1.4"/>
<line x1="45.2" y1="516.6" x2="48.4" y2="516.6" stroke="#000" stroke-width="1"/>
<text transform="translate(42.8 519.74) scale(0.8 1)" font-size="9.8" text-anchor="end">0</text>
<line x1="45.2" y1="507.8" x2="48.4" y2="507.8" stroke="#000" stroke-width="1"/>
<text transform="translate(42.8 510.94) scale(0.8 1)" font-size="9.8" text-anchor="end">20</text>
<line x1="45.2" y1="499" x2="48.4" y2="499" stroke="#000" stroke-width="1"/>
<text transform="translate(42.8 502.14) scale(0.8 1)" font-size="9.8" text-anchor="end">40</text>
<line x1="45.2" y1="490.2" x2="48.4" y2="490.2" stroke="#000" stroke-width="1"/>
<text transform="translate(42.8 493.34) scale(0.8 1)" font-size="9.8" text-anchor="end">60</text>
<line x1="45.2" y1="481.4" x2="48.4" y2="481.4" stroke="#000" stroke-width="1"/>
<text transform="translate(42.8 484.54) scale(0.8 1)" font-size="9.8" text-anchor="end">80</text>
<line x1="45.2" y1="472.6" x2="48.4" y2="472.6" stroke="#000" stroke-width="1"/>
<text transform="translate(42.8 475.74) scale(0.8 1)" font-size="9.8" text-anchor="end">100</text>
<text transform="translate(20.8 492.8) rotate(-90)" x="0" y="0" font-size="10.8" text-anchor="middle" textLength="27" lengthAdjust="spacingAndGlyphs">RH (%)</text>
<text x="216" y="541.7" font-size="10.8" text-anchor="start" textLength="37.5" lengthAdjust="spacingAndGlyphs">mean max</text>
<text x="224.9" y="560.2" font-size="10.8" text-anchor="start" textLength="19.2" lengthAdjust="spacingAndGlyphs">mean</text>
<text x="213" y="574.7" font-size="10.8" text-anchor="start" textLength="35" lengthAdjust="spacingAndGlyphs">mean min</text>
<line x1="68.68" y1="535.6" x2="68.68" y2="582.3" stroke="#979797" stroke-width="1.5"/>
<line x1="85.67" y1="535.6" x2="85.67" y2="582.3" stroke="#979797" stroke-width="1.5"/>
<line x1="102.65" y1="535.6" x2="102.65" y2="582.3" stroke="#979797" stroke-width="1.5"/>
<line x1="119.63" y1="535.6" x2="119.63" y2="582.3" stroke="#979797" stroke-width="1.5"/>
<line x1="136.62" y1="535.6" x2="136.62" y2="582.3" stroke="#979797" stroke-width="1.5"/>
<line x1="153.6" y1="535.6" x2="153.6" y2="582.3" stroke="#979797" stroke-width="1.5"/>
<line x1="170.58" y1="535.6" x2="170.58" y2="582.3" stroke="#979797" stroke-width="1.5"/>
<line x1="187.57" y1="535.6" x2="187.57" y2="582.3" stroke="#979797" stroke-width="1.5"/>
<line x1="204.55" y1="535.6" x2="204.55" y2="582.3" stroke="#979797" stroke-width="1.5"/>
<line x1="221.53" y1="535.6" x2="221.53" y2="582.3" stroke="#979797" stroke-width="1.5"/>
<line x1="238.52" y1="535.6" x2="238.52" y2="582.3" stroke="#979797" stroke-width="1.5"/>
<polyline points="48.7,535.6 255.5,535.6 255.5,582.3" fill="none" stroke="#979797" stroke-width="1.3"/>
<polyline points="60.19,553.46 77.18,551.24 94.16,541.32 111.14,536.18 128.12,535.83 145.11,536.42 162.09,541.55 179.07,544.94 196.06,539.92 213.04,537.58 230.03,545.87 247.01,550.66" fill="none" stroke="#000" stroke-width="2.0" stroke-linejoin="round"/>
<polyline points="60.19,560.82 77.18,558.37 94.16,549.49 111.14,543.77 128.12,541.55 145.11,540.97 162.09,545.99 179.07,547.63 196.06,546.22 213.04,546.81 230.03,554.51 247.01,557.78" fill="none" stroke="#000" stroke-width="2.0" stroke-linejoin="round"/>
<polyline points="60.19,567.94 77.18,565.02 94.16,558.37 111.14,552.65 128.12,548.21 145.11,545.99 162.09,549.84 179.07,551.13 196.06,550.43 213.04,554.51 230.03,562.1 247.01,565.37" fill="none" stroke="#000" stroke-width="2.0" stroke-linejoin="round"/>
<line x1="51.7" y1="535" x2="51.7" y2="582.9" stroke="#000" stroke-width="1.5"/>
<line x1="51.1" y1="582.3" x2="255.5" y2="582.3" stroke="#979797" stroke-width="1.4"/>
<line x1="48.5" y1="582.3" x2="51.7" y2="582.3" stroke="#000" stroke-width="1"/>
<text transform="translate(45.5 585.44) scale(0.8 1)" font-size="9.8" text-anchor="end">0</text>
<line x1="48.5" y1="570.62" x2="51.7" y2="570.62" stroke="#000" stroke-width="1"/>
<text transform="translate(45.5 573.76) scale(0.8 1)" font-size="9.8" text-anchor="end">10</text>
<line x1="48.5" y1="558.95" x2="51.7" y2="558.95" stroke="#000" stroke-width="1"/>
<text transform="translate(45.5 562.09) scale(0.8 1)" font-size="9.8" text-anchor="end">20</text>
<line x1="48.5" y1="547.27" x2="51.7" y2="547.27" stroke="#000" stroke-width="1"/>
<text transform="translate(45.5 550.41) scale(0.8 1)" font-size="9.8" text-anchor="end">30</text>
<line x1="48.5" y1="535.6" x2="51.7" y2="535.6" stroke="#000" stroke-width="1"/>
<text transform="translate(45.5 538.74) scale(0.8 1)" font-size="9.8" text-anchor="end">40</text>
<text transform="translate(23.7 561.2) rotate(-90)" x="0" y="0" font-size="10.8" text-anchor="middle" textLength="33" lengthAdjust="spacingAndGlyphs">DBT (°C)</text>
<line x1="68.64" y1="604" x2="68.64" y2="634.6" stroke="#979797" stroke-width="1.5"/>
<line x1="85.58" y1="604" x2="85.58" y2="634.6" stroke="#979797" stroke-width="1.5"/>
<line x1="102.53" y1="604" x2="102.53" y2="634.6" stroke="#979797" stroke-width="1.5"/>
<line x1="119.47" y1="604" x2="119.47" y2="634.6" stroke="#979797" stroke-width="1.5"/>
<line x1="136.41" y1="604" x2="136.41" y2="634.6" stroke="#979797" stroke-width="1.5"/>
<line x1="153.35" y1="604" x2="153.35" y2="634.6" stroke="#979797" stroke-width="1.5"/>
<line x1="170.29" y1="604" x2="170.29" y2="634.6" stroke="#979797" stroke-width="1.5"/>
<line x1="187.23" y1="604" x2="187.23" y2="634.6" stroke="#979797" stroke-width="1.5"/>
<line x1="204.18" y1="604" x2="204.18" y2="634.6" stroke="#979797" stroke-width="1.5"/>
<line x1="221.12" y1="604" x2="221.12" y2="634.6" stroke="#979797" stroke-width="1.5"/>
<line x1="238.06" y1="604" x2="238.06" y2="634.6" stroke="#979797" stroke-width="1.5"/>
<polyline points="48.7,604 255,604 255,634.6" fill="none" stroke="#979797" stroke-width="1.3"/>
<rect x="68.64" y="634.36" width="16.94" height="0.24" fill="none" stroke="#000" stroke-width="1.6"/>
<rect x="102.53" y="634.29" width="16.94" height="0.31" fill="none" stroke="#000" stroke-width="1.6"/>
<rect x="119.47" y="632.4" width="16.94" height="2.2" fill="none" stroke="#000" stroke-width="1.6"/>
<rect x="136.41" y="633.38" width="16.94" height="1.22" fill="none" stroke="#000" stroke-width="1.6"/>
<rect x="153.35" y="630.93" width="16.94" height="3.67" fill="none" stroke="#000" stroke-width="1.6"/>
<rect x="170.29" y="630.16" width="16.94" height="4.44" fill="none" stroke="#000" stroke-width="1.6"/>
<rect x="187.23" y="632.4" width="16.94" height="2.2" fill="none" stroke="#000" stroke-width="1.6"/>
<line x1="51.7" y1="603.4" x2="51.7" y2="635.2" stroke="#000" stroke-width="1.5"/>
<line x1="51.1" y1="634.6" x2="255" y2="634.6" stroke="#000" stroke-width="1.6"/>
<line x1="48.5" y1="634.6" x2="51.7" y2="634.6" stroke="#000" stroke-width="1"/>
<text transform="translate(45.5 637.74) scale(0.8 1)" font-size="9.8" text-anchor="end">0</text>
<line x1="48.5" y1="619.3" x2="51.7" y2="619.3" stroke="#000" stroke-width="1"/>
<text transform="translate(45.5 622.44) scale(0.8 1)" font-size="9.8" text-anchor="end">500</text>
<line x1="48.5" y1="604" x2="51.7" y2="604" stroke="#000" stroke-width="1"/>
<text transform="translate(45.5 607.14) scale(0.8 1)" font-size="9.8" text-anchor="end">1000</text>
<line x1="51.7" y1="634.6" x2="51.7" y2="637.2" stroke="#000" stroke-width="1"/>
<line x1="68.64" y1="634.6" x2="68.64" y2="637.2" stroke="#000" stroke-width="1"/>
<line x1="85.58" y1="634.6" x2="85.58" y2="637.2" stroke="#000" stroke-width="1"/>
<line x1="102.53" y1="634.6" x2="102.53" y2="637.2" stroke="#000" stroke-width="1"/>
<line x1="119.47" y1="634.6" x2="119.47" y2="637.2" stroke="#000" stroke-width="1"/>
<line x1="136.41" y1="634.6" x2="136.41" y2="637.2" stroke="#000" stroke-width="1"/>
<line x1="153.35" y1="634.6" x2="153.35" y2="637.2" stroke="#000" stroke-width="1"/>
<line x1="170.29" y1="634.6" x2="170.29" y2="637.2" stroke="#000" stroke-width="1"/>
<line x1="187.23" y1="634.6" x2="187.23" y2="637.2" stroke="#000" stroke-width="1"/>
<line x1="204.18" y1="634.6" x2="204.18" y2="637.2" stroke="#000" stroke-width="1"/>
<line x1="221.12" y1="634.6" x2="221.12" y2="637.2" stroke="#000" stroke-width="1"/>
<line x1="238.06" y1="634.6" x2="238.06" y2="637.2" stroke="#000" stroke-width="1"/>
<line x1="255" y1="634.6" x2="255" y2="637.2" stroke="#000" stroke-width="1"/>
<text transform="translate(17.1 625.1) rotate(-90)" x="0" y="0" font-size="10.0" text-anchor="middle" textLength="27.5" lengthAdjust="spacingAndGlyphs">Rainfall</text>
<text transform="translate(28.6 624.4) rotate(-90)" x="0" y="0" font-size="9.2" text-anchor="middle" textLength="18.8" lengthAdjust="spacingAndGlyphs">(mm)</text>
<line x1="341.27" y1="347.2" x2="341.27" y2="391.8" stroke="#979797" stroke-width="1.5"/>
<line x1="358.13" y1="347.2" x2="358.13" y2="391.8" stroke="#979797" stroke-width="1.5"/>
<line x1="375" y1="347.2" x2="375" y2="391.8" stroke="#979797" stroke-width="1.5"/>
<line x1="391.87" y1="347.2" x2="391.87" y2="391.8" stroke="#979797" stroke-width="1.5"/>
<line x1="408.73" y1="347.2" x2="408.73" y2="391.8" stroke="#979797" stroke-width="1.5"/>
<line x1="425.6" y1="347.2" x2="425.6" y2="391.8" stroke="#979797" stroke-width="1.5"/>
<line x1="442.47" y1="347.2" x2="442.47" y2="391.8" stroke="#979797" stroke-width="1.5"/>
<line x1="459.33" y1="347.2" x2="459.33" y2="391.8" stroke="#979797" stroke-width="1.5"/>
<line x1="476.2" y1="347.2" x2="476.2" y2="391.8" stroke="#979797" stroke-width="1.5"/>
<line x1="493.07" y1="347.2" x2="493.07" y2="391.8" stroke="#979797" stroke-width="1.5"/>
<line x1="509.93" y1="347.2" x2="509.93" y2="391.8" stroke="#979797" stroke-width="1.5"/>
<polyline points="321.4,347.2 526.8,347.2 526.8,391.8" fill="none" stroke="#979797" stroke-width="1.3"/>
<rect x="324.4" y="362.03" width="16.87" height="29.77" fill="none" stroke="#000" stroke-width="2"/>
<rect x="341.27" y="362.7" width="16.87" height="29.1" fill="none" stroke="#000" stroke-width="2"/>
<rect x="358.13" y="361.47" width="16.87" height="30.33" fill="none" stroke="#000" stroke-width="2"/>
<rect x="375" y="360.25" width="16.87" height="31.55" fill="none" stroke="#000" stroke-width="2"/>
<rect x="391.87" y="358.68" width="16.87" height="33.12" fill="none" stroke="#000" stroke-width="2"/>
<rect x="408.73" y="374.85" width="16.87" height="16.95" fill="none" stroke="#000" stroke-width="2"/>
<rect x="425.6" y="383.77" width="16.87" height="8.03" fill="none" stroke="#000" stroke-width="2"/>
<rect x="442.47" y="383.66" width="16.87" height="8.14" fill="none" stroke="#000" stroke-width="2"/>
<rect x="459.33" y="373.63" width="16.87" height="18.17" fill="none" stroke="#000" stroke-width="2"/>
<rect x="476.2" y="365.37" width="16.87" height="26.43" fill="none" stroke="#000" stroke-width="2"/>
<rect x="493.07" y="364.71" width="16.87" height="27.09" fill="none" stroke="#000" stroke-width="2"/>
<rect x="509.93" y="363.14" width="16.87" height="28.66" fill="none" stroke="#000" stroke-width="2"/>
<line x1="324.4" y1="346.6" x2="324.4" y2="392.4" stroke="#000" stroke-width="1.5"/>
<line x1="323.8" y1="391.8" x2="526.8" y2="391.8" stroke="#000" stroke-width="1.6"/>
<line x1="321.2" y1="391.8" x2="324.4" y2="391.8" stroke="#000" stroke-width="1"/>
<text transform="translate(317.5 394.94) scale(0.8 1)" font-size="9.8" text-anchor="end">0</text>
<line x1="321.2" y1="380.65" x2="324.4" y2="380.65" stroke="#000" stroke-width="1"/>
<text transform="translate(317.5 383.79) scale(0.8 1)" font-size="9.8" text-anchor="end">100</text>
<line x1="321.2" y1="369.5" x2="324.4" y2="369.5" stroke="#000" stroke-width="1"/>
<text transform="translate(317.5 372.64) scale(0.8 1)" font-size="9.8" text-anchor="end">200</text>
<line x1="321.2" y1="358.35" x2="324.4" y2="358.35" stroke="#000" stroke-width="1"/>
<text transform="translate(317.5 361.49) scale(0.8 1)" font-size="9.8" text-anchor="end">300</text>
<line x1="321.2" y1="347.2" x2="324.4" y2="347.2" stroke="#000" stroke-width="1"/>
<text transform="translate(317.5 350.34) scale(0.8 1)" font-size="9.8" text-anchor="end">400</text>
<text transform="translate(288.7 368.4) rotate(-90)" x="0" y="0" font-size="10.8" text-anchor="middle" textLength="33.9" lengthAdjust="spacingAndGlyphs">Sunshine</text>
<text transform="translate(299.7 368) rotate(-90)" x="0" y="0" font-size="10.8" text-anchor="middle" textLength="22" lengthAdjust="spacingAndGlyphs">Hours</text>
<text x="501.5" y="422.5" font-size="10.8" text-anchor="start" textLength="21.5" lengthAdjust="spacingAndGlyphs">global</text>
<text x="499.3" y="441.2" font-size="10.8" text-anchor="start" textLength="23.7" lengthAdjust="spacingAndGlyphs">diffuse</text>
<line x1="334.48" y1="409.9" x2="334.48" y2="453.9" stroke="#979797" stroke-width="1.5"/>
<line x1="351.97" y1="409.9" x2="351.97" y2="453.9" stroke="#979797" stroke-width="1.5"/>
<line x1="369.45" y1="409.9" x2="369.45" y2="453.9" stroke="#979797" stroke-width="1.5"/>
<line x1="386.93" y1="409.9" x2="386.93" y2="453.9" stroke="#979797" stroke-width="1.5"/>
<line x1="404.42" y1="409.9" x2="404.42" y2="453.9" stroke="#979797" stroke-width="1.5"/>
<line x1="421.9" y1="409.9" x2="421.9" y2="453.9" stroke="#979797" stroke-width="1.5"/>
<line x1="439.38" y1="409.9" x2="439.38" y2="453.9" stroke="#979797" stroke-width="1.5"/>
<line x1="456.87" y1="409.9" x2="456.87" y2="453.9" stroke="#979797" stroke-width="1.5"/>
<line x1="474.35" y1="409.9" x2="474.35" y2="453.9" stroke="#979797" stroke-width="1.5"/>
<line x1="491.83" y1="409.9" x2="491.83" y2="453.9" stroke="#979797" stroke-width="1.5"/>
<line x1="509.32" y1="409.9" x2="509.32" y2="453.9" stroke="#979797" stroke-width="1.5"/>
<polyline points="314,409.9 526.8,409.9 526.8,453.9" fill="none" stroke="#000" stroke-width="1.3"/>
<polyline points="325.74,426.01 343.23,422 360.71,419.25 378.19,415.51 395.67,415.29 413.16,426.01 430.64,430.8 448.12,430.8 465.61,426.95 483.09,424.2 500.57,424.75 518.06,426.95" fill="none" stroke="#000" stroke-width="2.0" stroke-linejoin="round"/>
<polyline points="325.74,446.2 343.23,445.59 360.71,444 378.19,442.51 395.67,440.7 413.16,437.4 430.64,435.2 448.12,435.2 465.61,438.5 483.09,442.9 500.57,446.2 518.06,447.3" fill="none" stroke="#000" stroke-width="2.0" stroke-linejoin="round"/>
<line x1="317" y1="409.3" x2="317" y2="454.5" stroke="#000" stroke-width="1.5"/>
<line x1="316.4" y1="453.9" x2="526.8" y2="453.9" stroke="#000" stroke-width="1.6"/>
<line x1="313.8" y1="453.9" x2="317" y2="453.9" stroke="#000" stroke-width="1"/>
<text transform="translate(310.2 457.04) scale(0.8 1)" font-size="9.8" text-anchor="end">0</text>
<line x1="313.8" y1="442.9" x2="317" y2="442.9" stroke="#000" stroke-width="1"/>
<text transform="translate(310.2 446.04) scale(0.8 1)" font-size="9.8" text-anchor="end">2</text>
<line x1="313.8" y1="431.9" x2="317" y2="431.9" stroke="#000" stroke-width="1"/>
<text transform="translate(310.2 435.04) scale(0.8 1)" font-size="9.8" text-anchor="end">4</text>
<line x1="313.8" y1="420.9" x2="317" y2="420.9" stroke="#000" stroke-width="1"/>
<text transform="translate(310.2 424.04) scale(0.8 1)" font-size="9.8" text-anchor="end">6</text>
<line x1="313.8" y1="409.9" x2="317" y2="409.9" stroke="#000" stroke-width="1"/>
<text transform="translate(310.2 413.04) scale(0.8 1)" font-size="9.8" text-anchor="end">8</text>
<text transform="translate(288.7 429.8) rotate(-90)" x="0" y="0" font-size="10.8" text-anchor="middle" textLength="33" lengthAdjust="spacingAndGlyphs">Sol. Rad.</text>
<text transform="translate(299.7 429.9) rotate(-90)" x="0" y="0" font-size="10.8" text-anchor="middle" textLength="33" lengthAdjust="spacingAndGlyphs">(kWh/m<tspan font-size="6" dy="-3">2</tspan><tspan dy="3">)</tspan></text>
<text x="496.8" y="493.5" font-size="10.8" text-anchor="start" textLength="28.9" lengthAdjust="spacingAndGlyphs">morning</text>
<text x="493.8" y="513.7" font-size="10.8" text-anchor="start" textLength="28.1" lengthAdjust="spacingAndGlyphs">evening</text>
<line x1="335.08" y1="472.5" x2="335.08" y2="517" stroke="#979797" stroke-width="1.5"/>
<line x1="352.55" y1="472.5" x2="352.55" y2="517" stroke="#979797" stroke-width="1.5"/>
<line x1="370.02" y1="472.5" x2="370.02" y2="517" stroke="#979797" stroke-width="1.5"/>
<line x1="387.5" y1="472.5" x2="387.5" y2="517" stroke="#979797" stroke-width="1.5"/>
<line x1="404.98" y1="472.5" x2="404.98" y2="517" stroke="#979797" stroke-width="1.5"/>
<line x1="422.45" y1="472.5" x2="422.45" y2="517" stroke="#979797" stroke-width="1.5"/>
<line x1="439.92" y1="472.5" x2="439.92" y2="517" stroke="#979797" stroke-width="1.5"/>
<line x1="457.4" y1="472.5" x2="457.4" y2="517" stroke="#979797" stroke-width="1.5"/>
<line x1="474.88" y1="472.5" x2="474.88" y2="517" stroke="#979797" stroke-width="1.5"/>
<line x1="492.35" y1="472.5" x2="492.35" y2="517" stroke="#979797" stroke-width="1.5"/>
<line x1="509.82" y1="472.5" x2="509.82" y2="517" stroke="#979797" stroke-width="1.5"/>
<polyline points="314.6,472.5 527.3,472.5 527.3,517" fill="none" stroke="#979797" stroke-width="1.3"/>
<polyline points="326.34,480.95 343.81,482.87 361.29,480.55 378.76,479.84 396.24,481.44 413.71,479.44 431.19,478.15 448.66,477.04 466.14,476.59 483.61,479.53 501.09,479.84 518.56,483.4" fill="none" stroke="#000" stroke-width="2.0" stroke-linejoin="round"/>
<polyline points="326.34,502.49 343.81,500.49 361.29,495.86 378.76,492.52 396.24,491.41 413.71,484.29 431.19,481.67 448.66,483.18 466.14,483.94 483.61,492.97 501.09,501.2 518.56,501.51" fill="none" stroke="#000" stroke-width="2.0" stroke-linejoin="round"/>
<line x1="317.6" y1="471.9" x2="317.6" y2="517.6" stroke="#000" stroke-width="1.5"/>
<line x1="317" y1="517" x2="527.3" y2="517" stroke="#979797" stroke-width="1.4"/>
<line x1="314.4" y1="517" x2="317.6" y2="517" stroke="#000" stroke-width="1"/>
<text transform="translate(310.6 520.14) scale(0.8 1)" font-size="9.8" text-anchor="end">0</text>
<line x1="314.4" y1="508.1" x2="317.6" y2="508.1" stroke="#000" stroke-width="1"/>
<text transform="translate(310.6 511.24) scale(0.8 1)" font-size="9.8" text-anchor="end">20</text>
<line x1="314.4" y1="499.2" x2="317.6" y2="499.2" stroke="#000" stroke-width="1"/>
<text transform="translate(310.6 502.34) scale(0.8 1)" font-size="9.8" text-anchor="end">40</text>
<line x1="314.4" y1="490.3" x2="317.6" y2="490.3" stroke="#000" stroke-width="1"/>
<text transform="translate(310.6 493.44) scale(0.8 1)" font-size="9.8" text-anchor="end">60</text>
<line x1="314.4" y1="481.4" x2="317.6" y2="481.4" stroke="#000" stroke-width="1"/>
<text transform="translate(310.6 484.54) scale(0.8 1)" font-size="9.8" text-anchor="end">80</text>
<line x1="314.4" y1="472.5" x2="317.6" y2="472.5" stroke="#000" stroke-width="1"/>
<text transform="translate(310.6 475.64) scale(0.8 1)" font-size="9.8" text-anchor="end">100</text>
<text transform="translate(289.6 490.7) rotate(-90)" x="0" y="0" font-size="10.8" text-anchor="middle" textLength="26.6" lengthAdjust="spacingAndGlyphs">RH (%)</text>
<text x="488" y="544.5" font-size="10.8" text-anchor="start" textLength="37.2" lengthAdjust="spacingAndGlyphs">mean max</text>
<text x="505.4" y="557.7" font-size="10.8" text-anchor="start" textLength="19.8" lengthAdjust="spacingAndGlyphs">mean</text>
<text x="488.9" y="575.9" font-size="10.8" text-anchor="start" textLength="34.6" lengthAdjust="spacingAndGlyphs">mean min</text>
<line x1="333.23" y1="535.5" x2="333.23" y2="586.2" stroke="#979797" stroke-width="1.5"/>
<line x1="350.87" y1="535.5" x2="350.87" y2="586.2" stroke="#979797" stroke-width="1.5"/>
<line x1="368.5" y1="535.5" x2="368.5" y2="586.2" stroke="#979797" stroke-width="1.5"/>
<line x1="386.13" y1="535.5" x2="386.13" y2="586.2" stroke="#979797" stroke-width="1.5"/>
<line x1="403.77" y1="535.5" x2="403.77" y2="586.2" stroke="#979797" stroke-width="1.5"/>
<line x1="421.4" y1="535.5" x2="421.4" y2="586.2" stroke="#979797" stroke-width="1.5"/>
<line x1="439.03" y1="535.5" x2="439.03" y2="586.2" stroke="#979797" stroke-width="1.5"/>
<line x1="456.67" y1="535.5" x2="456.67" y2="586.2" stroke="#979797" stroke-width="1.5"/>
<line x1="474.3" y1="535.5" x2="474.3" y2="586.2" stroke="#979797" stroke-width="1.5"/>
<line x1="491.93" y1="535.5" x2="491.93" y2="586.2" stroke="#979797" stroke-width="1.5"/>
<line x1="509.57" y1="535.5" x2="509.57" y2="586.2" stroke="#979797" stroke-width="1.5"/>
<polyline points="312.6,535.5 527.2,535.5 527.2,586.2" fill="none" stroke="#979797" stroke-width="1.3"/>
<polyline points="324.42,547.79 342.05,546.65 359.68,546.91 377.32,545.77 394.95,545.26 412.58,547.41 430.22,549.7 447.85,550.33 465.48,548.94 483.12,545.13 500.75,545.13 518.38,546.27" fill="none" stroke="#000" stroke-width="2.0" stroke-linejoin="round"/>
<polyline points="324.42,554.64 342.05,554.01 359.68,552.86 377.32,550.2 394.95,546.53 412.58,548.81 430.22,550.33 447.85,550.96 465.48,550.33 483.12,550.33 500.75,552.23 518.38,554.01" fill="none" stroke="#000" stroke-width="2.0" stroke-linejoin="round"/>
<polyline points="324.42,561.36 342.05,561.1 359.68,558.95 377.32,555.15 394.95,549.7 412.58,550.33 430.22,550.84 447.85,551.85 465.48,552.23 483.12,555.27 500.75,558.95 518.38,563" fill="none" stroke="#000" stroke-width="2.0" stroke-linejoin="round"/>
<line x1="315.6" y1="534.9" x2="315.6" y2="586.8" stroke="#000" stroke-width="1.5"/>
<line x1="315" y1="586.2" x2="527.2" y2="586.2" stroke="#979797" stroke-width="1.4"/>
<line x1="312.4" y1="586.2" x2="315.6" y2="586.2" stroke="#000" stroke-width="1"/>
<text transform="translate(309.3 589.34) scale(0.8 1)" font-size="9.8" text-anchor="end">0</text>
<line x1="312.4" y1="573.53" x2="315.6" y2="573.53" stroke="#000" stroke-width="1"/>
<text transform="translate(309.3 576.66) scale(0.8 1)" font-size="9.8" text-anchor="end">10</text>
<line x1="312.4" y1="560.85" x2="315.6" y2="560.85" stroke="#000" stroke-width="1"/>
<text transform="translate(309.3 563.99) scale(0.8 1)" font-size="9.8" text-anchor="end">20</text>
<line x1="312.4" y1="548.17" x2="315.6" y2="548.17" stroke="#000" stroke-width="1"/>
<text transform="translate(309.3 551.31) scale(0.8 1)" font-size="9.8" text-anchor="end">30</text>
<line x1="312.4" y1="535.5" x2="315.6" y2="535.5" stroke="#000" stroke-width="1"/>
<text transform="translate(309.3 538.64) scale(0.8 1)" font-size="9.8" text-anchor="end">40</text>
<text transform="translate(291.4 557) rotate(-90)" x="0" y="0" font-size="10.8" text-anchor="middle" textLength="33.2" lengthAdjust="spacingAndGlyphs">DBT (°C)</text>
<line x1="339.33" y1="604.3" x2="339.33" y2="634.6" stroke="#979797" stroke-width="1.5"/>
<line x1="356.47" y1="604.3" x2="356.47" y2="634.6" stroke="#979797" stroke-width="1.5"/>
<line x1="373.6" y1="604.3" x2="373.6" y2="634.6" stroke="#979797" stroke-width="1.5"/>
<line x1="390.73" y1="604.3" x2="390.73" y2="634.6" stroke="#979797" stroke-width="1.5"/>
<line x1="407.87" y1="604.3" x2="407.87" y2="634.6" stroke="#979797" stroke-width="1.5"/>
<line x1="425" y1="604.3" x2="425" y2="634.6" stroke="#979797" stroke-width="1.5"/>
<line x1="442.13" y1="604.3" x2="442.13" y2="634.6" stroke="#979797" stroke-width="1.5"/>
<line x1="459.27" y1="604.3" x2="459.27" y2="634.6" stroke="#979797" stroke-width="1.5"/>
<line x1="476.4" y1="604.3" x2="476.4" y2="634.6" stroke="#979797" stroke-width="1.5"/>
<line x1="493.53" y1="604.3" x2="493.53" y2="634.6" stroke="#979797" stroke-width="1.5"/>
<line x1="510.67" y1="604.3" x2="510.67" y2="634.6" stroke="#979797" stroke-width="1.5"/>
<polyline points="319.2,604.3 527.8,604.3 527.8,634.6" fill="none" stroke="#979797" stroke-width="1.3"/>
<rect x="322.2" y="633.99" width="17.13" height="0.61" fill="none" stroke="#000" stroke-width="1.6"/>
<rect x="390.73" y="633.69" width="17.13" height="0.91" fill="none" stroke="#000" stroke-width="1.6"/>
<rect x="407.87" y="619" width="17.13" height="15.6" fill="none" stroke="#000" stroke-width="1.6"/>
<rect x="425" y="609.75" width="17.13" height="24.85" fill="none" stroke="#000" stroke-width="1.6"/>
<rect x="442.13" y="617.78" width="17.13" height="16.82" fill="none" stroke="#000" stroke-width="1.6"/>
<rect x="459.27" y="625.36" width="17.13" height="9.24" fill="none" stroke="#000" stroke-width="1.6"/>
<rect x="476.4" y="632.42" width="17.13" height="2.18" fill="none" stroke="#000" stroke-width="1.6"/>
<rect x="493.53" y="631.57" width="17.13" height="3.03" fill="none" stroke="#000" stroke-width="1.6"/>
<rect x="510.67" y="634.3" width="17.13" height="0.3" fill="none" stroke="#000" stroke-width="1.6"/>
<line x1="322.2" y1="603.7" x2="322.2" y2="635.2" stroke="#000" stroke-width="1.5"/>
<line x1="321.6" y1="634.6" x2="527.8" y2="634.6" stroke="#000" stroke-width="1.6"/>
<line x1="319" y1="634.6" x2="322.2" y2="634.6" stroke="#000" stroke-width="1"/>
<text transform="translate(315.2 637.74) scale(0.8 1)" font-size="9.8" text-anchor="end">0</text>
<line x1="319" y1="619.45" x2="322.2" y2="619.45" stroke="#000" stroke-width="1"/>
<text transform="translate(315.2 622.59) scale(0.8 1)" font-size="9.8" text-anchor="end">500</text>
<line x1="319" y1="604.3" x2="322.2" y2="604.3" stroke="#000" stroke-width="1"/>
<text transform="translate(315.2 607.44) scale(0.8 1)" font-size="9.8" text-anchor="end">1000</text>
<line x1="322.2" y1="634.6" x2="322.2" y2="637.2" stroke="#000" stroke-width="1"/>
<line x1="339.33" y1="634.6" x2="339.33" y2="637.2" stroke="#000" stroke-width="1"/>
<line x1="356.47" y1="634.6" x2="356.47" y2="637.2" stroke="#000" stroke-width="1"/>
<line x1="373.6" y1="634.6" x2="373.6" y2="637.2" stroke="#000" stroke-width="1"/>
<line x1="390.73" y1="634.6" x2="390.73" y2="637.2" stroke="#000" stroke-width="1"/>
<line x1="407.87" y1="634.6" x2="407.87" y2="637.2" stroke="#000" stroke-width="1"/>
<line x1="425" y1="634.6" x2="425" y2="637.2" stroke="#000" stroke-width="1"/>
<line x1="442.13" y1="634.6" x2="442.13" y2="637.2" stroke="#000" stroke-width="1"/>
<line x1="459.27" y1="634.6" x2="459.27" y2="637.2" stroke="#000" stroke-width="1"/>
<line x1="476.4" y1="634.6" x2="476.4" y2="637.2" stroke="#000" stroke-width="1"/>
<line x1="493.53" y1="634.6" x2="493.53" y2="637.2" stroke="#000" stroke-width="1"/>
<line x1="510.67" y1="634.6" x2="510.67" y2="637.2" stroke="#000" stroke-width="1"/>
<line x1="527.8" y1="634.6" x2="527.8" y2="637.2" stroke="#000" stroke-width="1"/>
<text transform="translate(285.9 620.5) rotate(-90)" x="0" y="0" font-size="10.0" text-anchor="middle" textLength="27.5" lengthAdjust="spacingAndGlyphs">Rainfall</text>
<text transform="translate(297.4 620.2) rotate(-90)" x="0" y="0" font-size="9.2" text-anchor="middle" textLength="17.8" lengthAdjust="spacingAndGlyphs">(mm)</text>
<text transform="translate(56.19 307.2) scale(0.86 1)" font-size="9.8" text-anchor="middle">J</text>
<text transform="translate(73.58 307.2) scale(0.86 1)" font-size="9.8" text-anchor="middle">F</text>
<text transform="translate(90.96 307.2) scale(0.86 1)" font-size="9.8" text-anchor="middle">M</text>
<text transform="translate(108.34 307.2) scale(0.86 1)" font-size="9.8" text-anchor="middle">A</text>
<text transform="translate(125.73 307.2) scale(0.86 1)" font-size="9.8" text-anchor="middle">M</text>
<text transform="translate(143.11 307.2) scale(0.86 1)" font-size="9.8" text-anchor="middle">J</text>
<text transform="translate(160.49 307.2) scale(0.86 1)" font-size="9.8" text-anchor="middle">J</text>
<text transform="translate(177.88 307.2) scale(0.86 1)" font-size="9.8" text-anchor="middle">A</text>
<text transform="translate(195.26 307.2) scale(0.86 1)" font-size="9.8" text-anchor="middle">S</text>
<text transform="translate(212.64 307.2) scale(0.86 1)" font-size="9.8" text-anchor="middle">O</text>
<text transform="translate(230.03 307.2) scale(0.86 1)" font-size="9.8" text-anchor="middle">N</text>
<text transform="translate(247.41 307.2) scale(0.86 1)" font-size="9.8" text-anchor="middle">D</text>
<text transform="translate(328.1 304.8) scale(0.86 1)" font-size="9.8" text-anchor="middle">J</text>
<text transform="translate(345.5 304.8) scale(0.86 1)" font-size="9.8" text-anchor="middle">F</text>
<text transform="translate(362.9 304.8) scale(0.86 1)" font-size="9.8" text-anchor="middle">M</text>
<text transform="translate(380.3 304.8) scale(0.86 1)" font-size="9.8" text-anchor="middle">A</text>
<text transform="translate(397.7 304.8) scale(0.86 1)" font-size="9.8" text-anchor="middle">M</text>
<text transform="translate(415.1 304.8) scale(0.86 1)" font-size="9.8" text-anchor="middle">J</text>
<text transform="translate(432.5 304.8) scale(0.86 1)" font-size="9.8" text-anchor="middle">J</text>
<text transform="translate(449.9 304.8) scale(0.86 1)" font-size="9.8" text-anchor="middle">A</text>
<text transform="translate(467.3 304.8) scale(0.86 1)" font-size="9.8" text-anchor="middle">S</text>
<text transform="translate(484.7 304.8) scale(0.86 1)" font-size="9.8" text-anchor="middle">O</text>
<text transform="translate(502.1 304.8) scale(0.86 1)" font-size="9.8" text-anchor="middle">N</text>
<text transform="translate(519.5 304.8) scale(0.86 1)" font-size="9.8" text-anchor="middle">D</text>
<text transform="translate(60.17 649.8) scale(0.86 1)" font-size="9.8" text-anchor="middle">J</text>
<text transform="translate(77.11 649.8) scale(0.86 1)" font-size="9.8" text-anchor="middle">F</text>
<text transform="translate(94.05 649.8) scale(0.86 1)" font-size="9.8" text-anchor="middle">M</text>
<text transform="translate(111 649.8) scale(0.86 1)" font-size="9.8" text-anchor="middle">A</text>
<text transform="translate(127.94 649.8) scale(0.86 1)" font-size="9.8" text-anchor="middle">M</text>
<text transform="translate(144.88 649.8) scale(0.86 1)" font-size="9.8" text-anchor="middle">J</text>
<text transform="translate(161.82 649.8) scale(0.86 1)" font-size="9.8" text-anchor="middle">J</text>
<text transform="translate(178.76 649.8) scale(0.86 1)" font-size="9.8" text-anchor="middle">A</text>
<text transform="translate(195.7 649.8) scale(0.86 1)" font-size="9.8" text-anchor="middle">S</text>
<text transform="translate(212.65 649.8) scale(0.86 1)" font-size="9.8" text-anchor="middle">O</text>
<text transform="translate(229.59 649.8) scale(0.86 1)" font-size="9.8" text-anchor="middle">N</text>
<text transform="translate(246.53 649.8) scale(0.86 1)" font-size="9.8" text-anchor="middle">D</text>
<text transform="translate(330.77 649.8) scale(0.86 1)" font-size="9.8" text-anchor="middle">J</text>
<text transform="translate(347.9 649.8) scale(0.86 1)" font-size="9.8" text-anchor="middle">F</text>
<text transform="translate(365.03 649.8) scale(0.86 1)" font-size="9.8" text-anchor="middle">M</text>
<text transform="translate(382.17 649.8) scale(0.86 1)" font-size="9.8" text-anchor="middle">A</text>
<text transform="translate(399.3 649.8) scale(0.86 1)" font-size="9.8" text-anchor="middle">M</text>
<text transform="translate(416.43 649.8) scale(0.86 1)" font-size="9.8" text-anchor="middle">J</text>
<text transform="translate(433.57 649.8) scale(0.86 1)" font-size="9.8" text-anchor="middle">J</text>
<text transform="translate(450.7 649.8) scale(0.86 1)" font-size="9.8" text-anchor="middle">A</text>
<text transform="translate(467.83 649.8) scale(0.86 1)" font-size="9.8" text-anchor="middle">S</text>
<text transform="translate(484.97 649.8) scale(0.86 1)" font-size="9.8" text-anchor="middle">O</text>
<text transform="translate(502.1 649.8) scale(0.86 1)" font-size="9.8" text-anchor="middle">N</text>
<text transform="translate(519.23 649.8) scale(0.86 1)" font-size="9.8" text-anchor="middle">D</text>
<text x="1" y="332.6" font-family="Liberation Serif, serif" font-size="14" textLength="170.5" lengthAdjust="spacingAndGlyphs" xml:space="preserve"><tspan font-weight="bold">Cold:</tspan> Leh N 34<tspan font-size="9.6" dy="-4.6">o</tspan><tspan dy="4.6"> 09'  E 77</tspan><tspan font-size="9.6" dy="-4.6">o</tspan><tspan dy="4.6"> 40'</tspan></text>
<text x="273.9" y="332.6" font-family="Liberation Serif, serif" font-size="14" textLength="235.5" lengthAdjust="spacingAndGlyphs" xml:space="preserve"><tspan font-weight="bold">Temperate</tspan>: Bengaluru N 12<tspan font-size="9.6" dy="-4.6">o</tspan><tspan dy="4.6"> 58' E 77</tspan><tspan font-size="9.6" dy="-4.6">o</tspan><tspan dy="4.6"> 34'</tspan></text>
<text x="0.8" y="674.6" font-family="Liberation Serif, serif" font-size="14" textLength="236.2" lengthAdjust="spacingAndGlyphs" xml:space="preserve"><tspan font-weight="bold">Hot and dry:</tspan> Jodhpur N  26<tspan font-size="9.6" dy="-4.6">o</tspan><tspan dy="4.6"> 17'   E 73</tspan><tspan font-size="9.6" dy="-4.6">o</tspan><tspan dy="4.6"> 1'</tspan></text>
<text x="273.3" y="674.6" font-family="Liberation Serif, serif" font-size="14" textLength="270" lengthAdjust="spacingAndGlyphs" xml:space="preserve"><tspan font-weight="bold">Warm and humid:</tspan> Mumbai N 19<tspan font-size="9.6" dy="-4.6">o</tspan><tspan dy="4.6"> 7'   E 72</tspan><tspan font-size="9.6" dy="-4.6">o</tspan><tspan dy="4.6"> 50'</tspan></text>
</svg></body></html>
